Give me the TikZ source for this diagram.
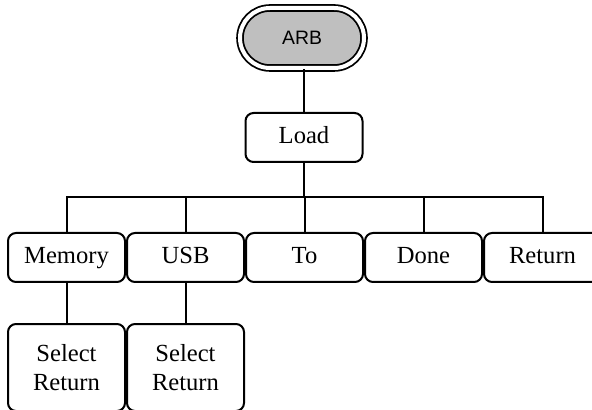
\documentclass[tikz,border=0pt]{standalone}
\usepackage{fontspec}
\setmainfont{Liberation Serif}
\setsansfont{Liberation Sans}
\usetikzlibrary{shapes.misc,positioning,calc}

\begin{document}
\begin{tikzpicture}[
    x=0.5pt, y=-0.5pt,
    node distance=0pt and 0pt,
    font=\fontsize{12.3}{14.5}\selectfont,
    keyNode/.style={
        rounded rectangle, draw=black, line width=0.9pt, double=white,
        double distance=2pt, fill=gray!50, minimum width=62pt,
        minimum height=30pt, inner sep=0pt,
        font=\sffamily\fontsize{9.7}{11}\selectfont
    },
    menuNode/.style={
        rectangle, rounded corners=4pt, draw=black, line width=1pt,
        fill=white, minimum width=58.5pt, minimum height=24.5pt,
        text height=1.6ex, text depth=0.3ex,
        align=center, inner sep=2pt
    },
    subNode/.style={
        menuNode, minimum height=43.5pt, text height=, text depth=
    },
    link/.style={line width=1pt, draw=black}
]
\useasboundingbox (0,0) rectangle (592,410);

% Top: ARB key and Load
\node[keyNode] (arb) at (302,38) {ARB};
\node[menuNode] (load) at (304,137.5) {Load};

% Soft key row
\node[menuNode] (memory) at (66.5,257.5) {Memory};
\node[menuNode, right=of memory] (usb) {USB};
\node[menuNode, right=of usb] (to) {To};
\node[menuNode, right=of to] (done) {Done};
\node[menuNode, right=of done] (return) {Return};

% Sub menus
\node[subNode, below=20pt of memory] (memSel) {Select\\Return};
\node[subNode, below=20pt of usb] (usbSel) {Select\\Return};

% Links
\coordinate (bus) at ($(load.south)+(0,34)$);
\draw[link] (load.north) -- (load.north |- arb.south);
\draw[link] (load.south) -- (bus);
\foreach \k in {memory,usb,to,done,return}
    \draw[link] (\k.north) |- (bus);
\draw[link] (memory.south) -- (memSel.north);
\draw[link] (usb.south) -- (usbSel.north);

\end{tikzpicture}
\end{document}
